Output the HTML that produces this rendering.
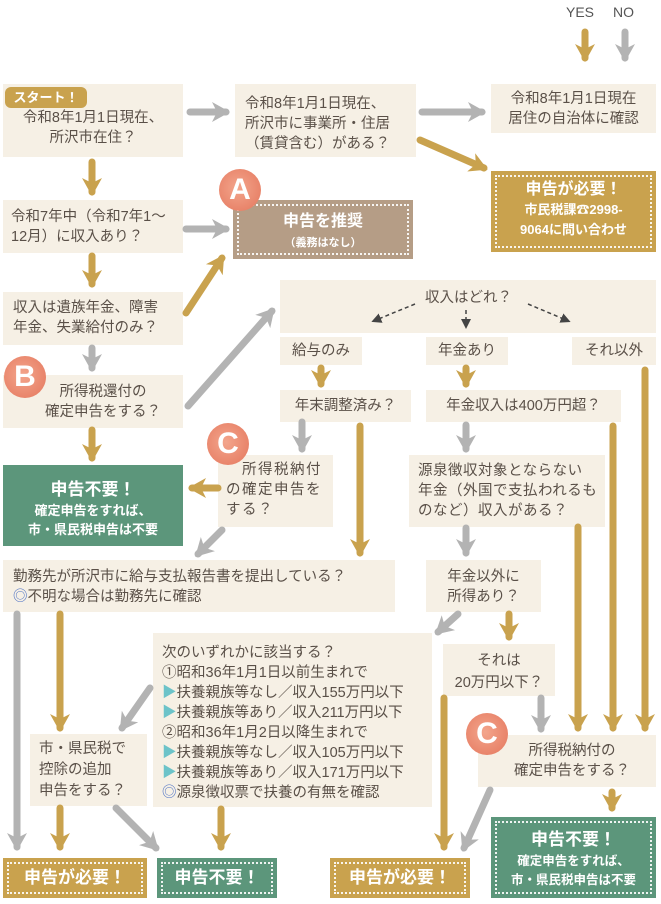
<!DOCTYPE html>
<html><head><meta charset="utf-8"><style>
body{margin:0;width:661px;height:904px;background:#fff;position:relative;overflow:hidden;font-family:"Liberation Sans","Noto Sans CJK JP",sans-serif;color:#5a5048}
.b{position:absolute;background:#f6f0e5;font-size:14.5px;line-height:20px;box-sizing:border-box;white-space:nowrap}
.c{text-align:center}
.r{position:absolute;color:#fff;font-weight:bold;text-align:center;box-sizing:border-box}
.r:after{content:"";position:absolute;left:4px;top:4px;right:4px;bottom:4px;border:2px dotted rgba(255,255,255,.9)}
.g{background:#c9a24e}.gr{background:#5c967b}.br{background:#b59d86}
.ci{position:absolute;width:42px;height:42px;border-radius:50%;background:radial-gradient(circle at 45% 45%,#f3a58c,#e4765c);color:#fff;font-weight:bold;font-size:30px;line-height:42px;text-align:center;z-index:2}
svg{position:absolute;left:0;top:0}
.tri{color:#6cc3c9}.dc{color:#4a6fc4}
.nb:after{display:none}
</style></head><body>
<svg width="661" height="904" style="z-index:1">
<defs>
<marker id="ag" markerUnits="userSpaceOnUse" markerWidth="22" markerHeight="22" refX="14" refY="11" orient="auto"><path d="M0,1 L18,11 L0,21 L5,11z" fill="#c9a24e"/></marker>
<marker id="ay" markerUnits="userSpaceOnUse" markerWidth="22" markerHeight="22" refX="14" refY="11" orient="auto"><path d="M0,1 L18,11 L0,21 L5,11z" fill="#b3b3b3"/></marker>
<marker id="ad" markerUnits="userSpaceOnUse" markerWidth="10" markerHeight="10" refX="5" refY="5" orient="auto"><path d="M0,0 L10,5 L0,10z" fill="#444"/></marker>
</defs>
<g stroke-width="7" stroke-linecap="round" fill="none">
<g stroke="#c9a24e" marker-end="url(#ag)">
<line x1="585" y1="32" x2="585" y2="58"/>
<line x1="420" y1="140" x2="484" y2="168"/>
<line x1="92" y1="162" x2="92" y2="192"/>
<line x1="92" y1="256" x2="92" y2="284"/>
<line x1="186" y1="313" x2="222" y2="258"/>
<line x1="92" y1="430" x2="92" y2="458"/>
<line x1="321" y1="368" x2="321" y2="384"/>
<line x1="466" y1="368" x2="466" y2="384"/>
<line x1="360" y1="426" x2="360" y2="553"/>
<line x1="218" y1="488" x2="192" y2="488"/>
<line x1="613" y1="426" x2="613" y2="728"/>
<line x1="645" y1="370" x2="645" y2="728"/>
<line x1="578" y1="527" x2="578" y2="728"/>
<line x1="509" y1="614" x2="509" y2="637"/>
<line x1="444" y1="698" x2="444" y2="847"/>
<line x1="612" y1="792" x2="612" y2="808"/>
<line x1="60" y1="614" x2="60" y2="728"/>
<line x1="60" y1="808" x2="60" y2="847"/>
<line x1="221" y1="809" x2="221" y2="847"/>
</g>
<g stroke="#b3b3b3" marker-end="url(#ay)">
<line x1="625" y1="32" x2="625" y2="58"/>
<line x1="190" y1="112" x2="226" y2="112"/>
<line x1="422" y1="112" x2="482" y2="112"/>
<line x1="186" y1="229" x2="226" y2="229"/>
<line x1="92" y1="348" x2="92" y2="368"/>
<line x1="188" y1="406" x2="272" y2="311"/>
<line x1="302" y1="422" x2="302" y2="449"/>
<line x1="222" y1="530" x2="198" y2="554"/>
<line x1="466" y1="425" x2="466" y2="449"/>
<line x1="466" y1="528" x2="466" y2="553"/>
<line x1="458" y1="614" x2="438" y2="632"/>
<line x1="541" y1="698" x2="541" y2="729"/>
<line x1="490" y1="790" x2="464" y2="848"/>
<line x1="17" y1="614" x2="17" y2="847"/>
<line x1="150" y1="688" x2="122" y2="728"/>
<line x1="116" y1="808" x2="156" y2="848"/>
</g>
</g>
</svg>
<div style="position:absolute;left:566px;top:4px;font-size:14px;color:#555">YES</div>
<div style="position:absolute;left:613px;top:4px;font-size:14px;color:#555">NO</div>

<div class="b c" style="left:3px;top:84px;width:180px;height:73px;padding-top:24px">令和8年1月1日現在、<br>所沢市在住？</div>
<div class="r g nb" style="left:5px;top:87px;width:82px;height:21px;border-radius:6px;font-size:13px;line-height:21px">スタート！</div>
<div class="b" style="left:235px;top:84px;width:181px;height:73px;padding:10px 0 0 10px">令和8年1月1日現在、<br>所沢市に事業所・住居<br>（賃貸含む）がある？</div>
<div class="b c" style="left:491px;top:84px;width:165px;height:49px;padding-top:5px">令和8年1月1日現在<br>居住の自治体に確認</div>
<div class="r g" style="left:491px;top:171px;width:165px;height:81px;padding-top:9px;font-size:13px;line-height:20px"><span style="font-size:16px">申告が必要！</span><br>市民税課☎2998-<br>9064に問い合わせ</div>
<div class="b" style="left:3px;top:200px;width:180px;height:53px;padding:7px 0 0 8px">令和7年中（令和7年1～<br>12月）に収入あり？</div>
<div class="r br" style="left:233px;top:200px;width:180px;height:59px;padding-top:12px;font-size:16px;line-height:20px">申告を推奨<br><span style="font-size:11px">（義務はなし）</span></div>
<div class="ci" style="left:219px;top:169px">A</div>
<div class="b" style="left:3px;top:292px;width:180px;height:53px;padding:6px 0 0 10px">収入は遺族年金、障害<br>年金、失業給付のみ？</div>
<div class="b" style="left:280px;top:280px;width:376px;height:53px"><div style="position:absolute;left:145px;top:8px">収入はどれ？</div>
<svg width="376" height="53"><g stroke="#444" stroke-width="1.5" stroke-dasharray="4,3" fill="none"><line x1="135" y1="24" x2="96" y2="40" marker-end="url(#ad)"/><line x1="186" y1="30" x2="186" y2="44" marker-end="url(#ad)"/><line x1="248" y1="24" x2="286" y2="40" marker-end="url(#ad)"/></g></svg></div>
<div class="b c" style="left:280px;top:337px;width:82px;height:28px;padding-top:4px">給与のみ</div>
<div class="b c" style="left:426px;top:337px;width:82px;height:28px;padding-top:4px">年金あり</div>
<div class="b c" style="left:572px;top:337px;width:84px;height:28px;padding-top:4px">それ以外</div>
<div class="b c" style="left:280px;top:390px;width:131px;height:32px;padding-top:6px">年末調整済み？</div>
<div class="b c" style="left:426px;top:390px;width:195px;height:32px;padding-top:6px">年金収入は400万円超？</div>
<div class="b c" style="left:3px;top:375px;width:180px;height:53px;padding:7px 0 0 20px">所得税還付の<br>確定申告をする？</div>
<div class="ci" style="left:4px;top:356px">B</div>
<div class="r gr nb" style="left:3px;top:465px;width:180px;height:81px;padding-top:14px;font-size:13px;line-height:19px"><span style="font-size:17px;line-height:22px">申告不要！</span><br>確定申告をすれば、<br>市・県民税申告は不要</div>
<div class="b" style="left:218px;top:455px;width:115px;height:72px;padding:5px 0 0 8px;letter-spacing:1.5px">　所得税納付<br>の確定申告を<br>する？</div>
<div class="ci" style="left:207px;top:423px">C</div>
<div class="b" style="left:409px;top:455px;width:196px;height:72px;padding:6px 0 0 9px;letter-spacing:.5px">源泉徴収対象とならない<br>年金（外国で支払われるも<br>のなど）収入がある？</div>
<div class="b" style="left:3px;top:560px;width:392px;height:52px;padding:7px 0 0 10px">勤務先が所沢市に給与支払報告書を提出している？<br><span class="dc">◎</span>不明な場合は勤務先に確認</div>
<div class="b c" style="left:426px;top:560px;width:115px;height:52px;padding-top:7px">年金以外に<br>所得あり？</div>
<div class="b" style="left:153px;top:633px;width:279px;height:174px;padding:10px 0 0 9px">次のいずれかに該当する？<br>①昭和36年1月1日以前生まれで<br><span class="tri">▶</span>扶養親族等なし／収入155万円以下<br><span class="tri">▶</span>扶養親族等あり／収入211万円以下<br>②昭和36年1月2日以降生まれで<br><span class="tri">▶</span>扶養親族等なし／収入105万円以下<br><span class="tri">▶</span>扶養親族等あり／収入171万円以下<br><span class="dc">◎</span>源泉徴収票で扶養の有無を確認</div>
<div class="b" style="left:30px;top:734px;width:117px;height:72px;padding:5px 0 0 9px;line-height:21px">市・県民税で<br>控除の追加<br>申告をする？</div>
<div class="b c" style="left:443px;top:644px;width:112px;height:52px;padding-top:6px;line-height:22px">それは<br>20万円以下？</div>
<div class="b c" style="left:478px;top:735px;width:178px;height:52px;padding:6px 0 0 10px">所得税納付の<br>確定申告をする？</div>
<div class="ci" style="left:466px;top:713px">C</div>
<div class="r g" style="left:3px;top:858px;width:144px;height:40px;font-size:17px;line-height:40px">申告が必要！</div>
<div class="r gr" style="left:157px;top:858px;width:120px;height:40px;font-size:17px;line-height:40px">申告不要！</div>
<div class="r g" style="left:330px;top:858px;width:140px;height:40px;font-size:17px;line-height:40px">申告が必要！</div>
<div class="r gr" style="left:491px;top:817px;width:165px;height:81px;padding-top:11px;font-size:12.5px;line-height:19px"><span style="font-size:17px;line-height:24px">申告不要！</span><br>確定申告をすれば、<br>市・県民税申告は不要</div>
</body></html>
